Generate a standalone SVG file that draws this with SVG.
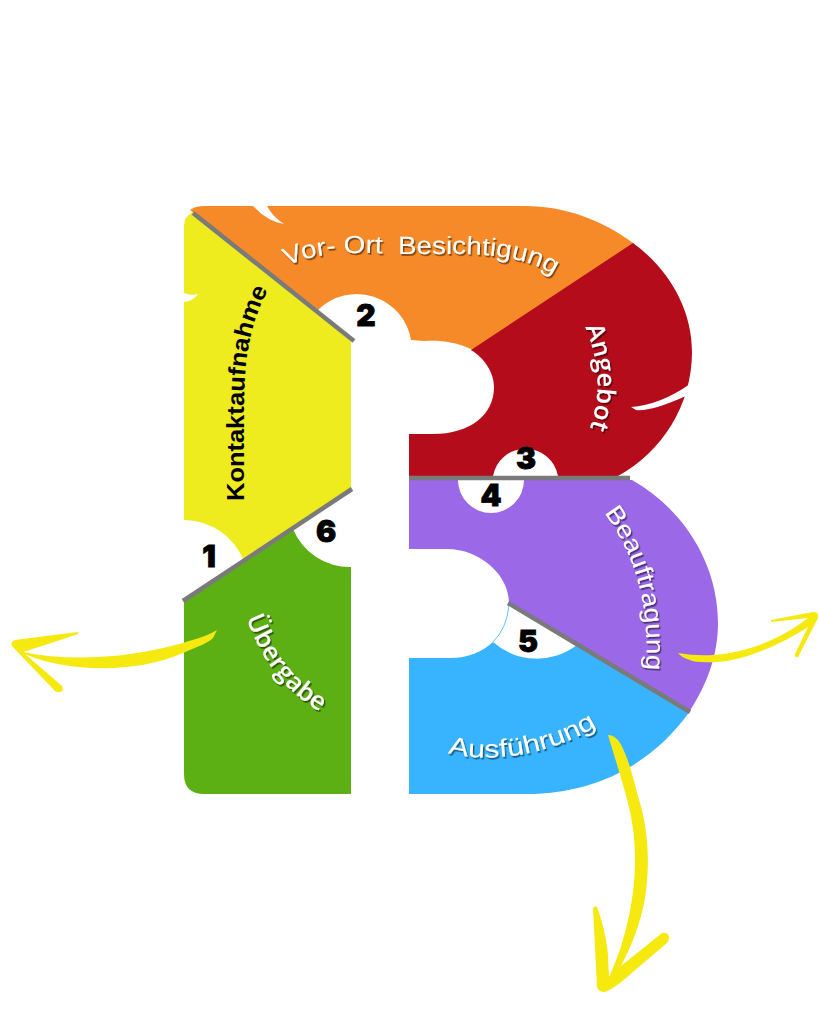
<svg xmlns="http://www.w3.org/2000/svg" width="819" height="1024" viewBox="0 0 819 1024">
  <style>
    .label { font-family: "Liberation Sans", Arial, sans-serif; font-size: 25px; fill: #fff; filter: url(#lift); }
    .round { font-family: "Open Sans", "Liberation Sans", sans-serif; font-size: 25px; font-weight: 600; }
    .dark { font-family: "Liberation Sans", Arial, sans-serif; font-size: 24px; font-weight: 700; fill: #000; }
    .num { font-family: Inter, "Liberation Sans", sans-serif; font-weight: 900; font-size: 30px; fill: #000; text-anchor: middle; stroke: #000; stroke-width: 0.8; }
    .rule { stroke: #7a7a7a; stroke-width: 4.5; fill: none; }
    .arrow { fill: #f5e90f; }
    .nick { fill: #fff; }
  </style>
  <defs>
    <filter id="lift" x="-10%" y="-10%" width="120%" height="120%">
      <feDropShadow dx="1.4" dy="1.8" stdDeviation="0.3" flood-color="#000" flood-opacity="0.5"/>
    </filter>
    <path id="p-kontakt" d="M244,501 L244,410 C244,365 248,325 270,287"/>
    <path id="p-ort" d="M287,266 C320,250 360,253 400,254 C450,255 515,248 555,276"/>
    <path id="p-angebot" d="M585,327 C599,360 603,395 588,433"/>
    <path id="p-auftrag" d="M604,513 C632,550 650,600 646,667"/>
    <path id="p-ausf" d="M448,753 C490,764 550,755 597,726"/>
    <path id="p-uebergabe" d="M246,618 C262,660 285,695 330,717"/>
  </defs>
  <rect width="819" height="1024" fill="#fff"/>

  <g id="kontaktaufnahme">
    <path fill="#eeeb1f" d="M193,212 L351,341 L351,490 L244,561 A65,65 0 0 0 184,520 L184,226 Q184,216 193,212 Z"/>
    <path class="nick" d="M184,293 Q192,296 198,294 Q192,302 184,302 Z"/>
    <text class="dark"><textPath href="#p-kontakt" textLength="215" lengthAdjust="spacingAndGlyphs">Kontaktaufnahme</textPath></text>
    <text class="num" x="209" y="567">1</text>
  </g>

  <g id="besichtigung">
    <path fill="#f68a28" d="M190,210 Q195,206 205,206 L525,206 C565,206 602,220 633,243 L634,245 L472,351 L471,349 C456,342 440,340 425,341 L411,340 A55,55 0 0 0 318,310 Z"/>
    <path class="nick" d="M253,206 Q268,222 284,224 Q272,216 267,206 Z"/>
    <text class="label"><textPath href="#p-ort" xml:space="preserve" textLength="272" lengthAdjust="spacingAndGlyphs">Vor- Ort  Besichtigung</textPath></text>
    <text class="num" x="366" y="326">2</text>
  </g>

  <g id="angebot">
    <path fill="#b50c1b" d="M633,243 C670,270 692,310 692,352 C692,405 662,452 618,476 L558,476 A33,33 0 0 0 493,476 L409,476 L409,434 L433,434 C470,434 494,415 494,387 C494,372 484,358 471,350 Z"/>
    <path class="nick" d="M631,407 Q660,405 690,384 L686,396 Q650,412 636,410 Z"/>
    <text class="label round"><textPath href="#p-angebot" textLength="104" lengthAdjust="spacingAndGlyphs">Angebot</textPath></text>
    <text class="num" x="526" y="469">3</text>
  </g>

  <g id="beauftragung">
    <path fill="#9b69e8" d="M409,480 L458,480 A33,33 0 0 0 524,480 L632,480 C685,510 718,565 718,623 C718,655 707,685 689,712 L509,603 C509,575 480,549 447,549 L409,549 Z"/>
    <text class="label"><textPath href="#p-auftrag" textLength="166" lengthAdjust="spacingAndGlyphs">Beauftragung</textPath></text>
    <text class="num" x="491" y="506">4</text>
  </g>

  <g id="ausfuehrung">
    <path fill="#38b4ff" d="M409,658 L450,658 C468,658 482,652 493,642 A66,66 0 0 0 577,645 L690,711 C650,768 590,794 527,794 L409,794 Z"/>
    <path d="M509,605 Q507,628 493,642" fill="none" stroke="#38b4ff" stroke-width="0.8"/>
    <text class="label"><textPath href="#p-ausf" textLength="155" lengthAdjust="spacingAndGlyphs">Ausführung</textPath></text>
    <text class="num" x="528" y="652">5</text>
  </g>

  <g id="uebergabe">
    <path fill="#5db013" d="M184,601 L293,529 A61,61 0 0 0 351,567 L351,794 L204,794 Q184,794 184,774 Z"/>
    <text class="label round"><textPath href="#p-uebergabe" textLength="122" lengthAdjust="spacingAndGlyphs">Übergabe</textPath></text>
    <text class="num" x="326" y="542">6</text>
  </g>

  <g id="connectors">
    <path class="rule" d="M193,213 L354,341"/>
    <path class="rule" d="M183,601 L352,489"/>
    <path class="rule" d="M409,478 L630,478"/>
    <path class="rule" d="M508,603 L690,712"/>
    <path class="arrow" d="M217,630 C205,637 195,639 183,643 C130,658 70,662 23,652 L45,645 Q60,640 78,634 L78,632 Q45,636 15,640 Q10,642 12,646 L55,691 Q60,694 63,690 L62,686 L25,654 C60,670 130,676 183,653 C195,648 210,642 213,638 Z"/>
    <path class="arrow" d="M678,653 Q695,656 713,655 C745,653 780,640 808,618 L771,622 L771,620 L813,612 Q819,612 818,618 L798,657 Q794,658 795,654 L808,627 C780,645 745,660 717,662 Q695,663 690,660 Q682,658 678,653 Z"/>
    <path class="arrow" d="M608,735 Q615,735 620,743 C630,760 635,787 640,803 C648,830 649,860 647,880 C645,915 632,945 621,966 L662,933 Q668,932 669,937 Q669,941 667,943 L627,977 Q615,988 605,992 Q598,992 597,987 L593,908 Q596,905 597,907 C602,920 607,940 608,955 L609,977 C622,950 635,905 635,860 C635,835 632,820 628,803 C622,780 614,755 608,735 Z"/>
  </g>
</svg>
